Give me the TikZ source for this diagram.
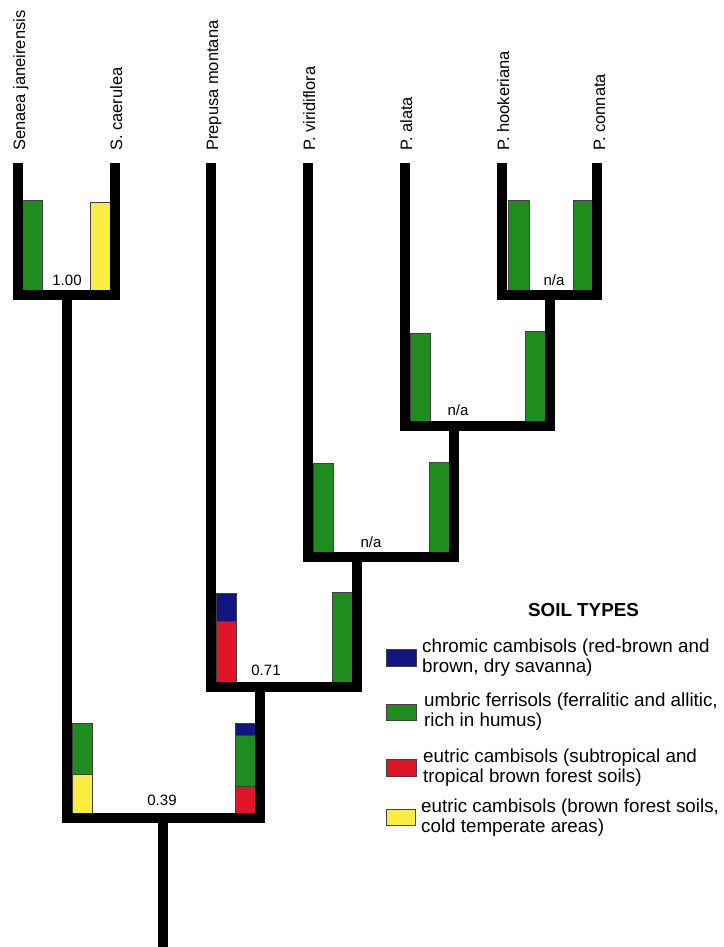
\documentclass[tikz,border=0pt]{standalone}
\usepackage{fontspec}
\setmainfont{Liberation Sans}
\definecolor{sgreen}{RGB}{32,140,32}
\definecolor{sblue}{RGB}{18,22,128}
\definecolor{sred}{RGB}{222,22,40}
\definecolor{syellow}{RGB}{250,236,64}
\begin{document}
\begin{tikzpicture}[x=1pt,y=-1pt,
  branch/.style={line width=10pt, line join=miter, line cap=butt},
  soil/.style={draw=black!75, line width=0.6pt},
  taxon/.style={rotate=90, anchor=base west, inner sep=0pt, font=\fontsize{16.5}{18}\selectfont},
  support/.style={anchor=base, inner sep=0pt, font=\fontsize{15}{17}\selectfont},
  legtext/.style={anchor=west, align=left, inner sep=0pt, font=\fontsize{18.8}{20}\selectfont}]
\useasboundingbox (0,0) rectangle (723,947);
% tips
\coordinate (tSen) at (18,163);
\coordinate (tCae) at (115,163);
\coordinate (tPre) at (211,163);
\coordinate (tVir) at (308,163);
\coordinate (tAla) at (405,163);
\coordinate (tHoo) at (502,163);
\coordinate (tCon) at (597,163);
% internal nodes
\coordinate (n100) at (67,295);
\coordinate (nHC) at (550,295);
\coordinate (nAl) at (454,426);
\coordinate (nVi) at (357,557);
\coordinate (n071) at (260,687);
\coordinate (n039) at (163,818);
\coordinate (root) at (163,947);
% taxon labels
\node[taxon] (lSen) at (25,151) {Senaea janeirensis};
\node[taxon] (lCae) at (122,151) {S. caerulea};
\node[taxon] (lPre) at (218,151) {Prepusa montana};
\node[taxon] (lVir) at (315,151) {P. viridiflora};
\node[taxon] (lAla) at (412,151) {P. alata};
\node[taxon] (lHoo) at (509,151) {P. hookeriana};
\node[taxon] (lCon) at (605,151) {P. connata};
% soil boxes
\draw[soil, fill=sgreen] (22,200) rectangle (42,290);
\draw[soil, fill=syellow] (90,202) rectangle (110,290);
\draw[soil, fill=sgreen] (508,200) rectangle (529,290);
\draw[soil, fill=sgreen] (573,200) rectangle (593,290);
\draw[soil, fill=sgreen] (410,333) rectangle (430,421);
\draw[soil, fill=sgreen] (525,331) rectangle (545,421);
\draw[soil, fill=sgreen] (313,463) rectangle (333,552);
\draw[soil, fill=sgreen] (429,462) rectangle (449,552);
\draw[soil, fill=sblue] (216,593) rectangle (236,621);
\draw[soil, fill=sred] (216,621) rectangle (236,682);
\draw[soil, fill=sgreen] (332,592) rectangle (352,682);
\draw[soil, fill=sgreen] (72,723) rectangle (92,774);
\draw[soil, fill=syellow] (72,774) rectangle (92,813);
\draw[soil, fill=sblue] (235,723) rectangle (255,735);
\draw[soil, fill=sgreen] (235,735) rectangle (255,786);
\draw[soil, fill=sred] (235,786) rectangle (255,813);
% branches
\draw[branch] (tSen) |- (n100) -| (tCae);
\draw[branch] (tHoo) |- (nHC) -| (tCon);
\draw[branch] (tAla) |- (nAl) -| (nHC);
\draw[branch] (tVir) |- (nVi) -| (nAl);
\draw[branch] (tPre) |- (n071) -| (nVi);
\draw[branch] (n100) |- (n039) -| (n071);
\draw[branch] (n039) -- (root);
% support values
\node[support] (s100) at (67,285) {1.00};
\node[support] (sHC) at (554,285) {n/a};
\node[support] (sAl) at (458,415) {n/a};
\node[support] (sVi) at (371,547) {n/a};
\node[support] (s071) at (266,675) {0.71};
\node[support] (s039) at (162,805) {0.39};
% legend
\node[anchor=base, inner sep=0pt, font=\fontsize{18.8}{20}\selectfont\bfseries] (legtitle) at (583.5,616) {SOIL TYPES};
\draw[soil, fill=sblue] (386,649) rectangle (416,666);
\node[legtext] (leg1) at (422,657.5) {chromic cambisols (red-brown and\\brown, dry savanna)};
\draw[soil, fill=sgreen] (386,704) rectangle (416,720);
\node[legtext] (leg2) at (424,712) {umbric ferrisols (ferralitic and allitic,\\rich in humus)};
\draw[soil, fill=sred] (386,759) rectangle (416,776);
\node[legtext] (leg3) at (423,767.5) {eutric cambisols (subtropical and\\tropical brown forest soils)};
\draw[soil, fill=syellow] (386,809) rectangle (415,825);
\node[legtext] (leg4) at (421,818) {eutric cambisols (brown forest soils,\\cold temperate areas)};
\end{tikzpicture}
\end{document}
